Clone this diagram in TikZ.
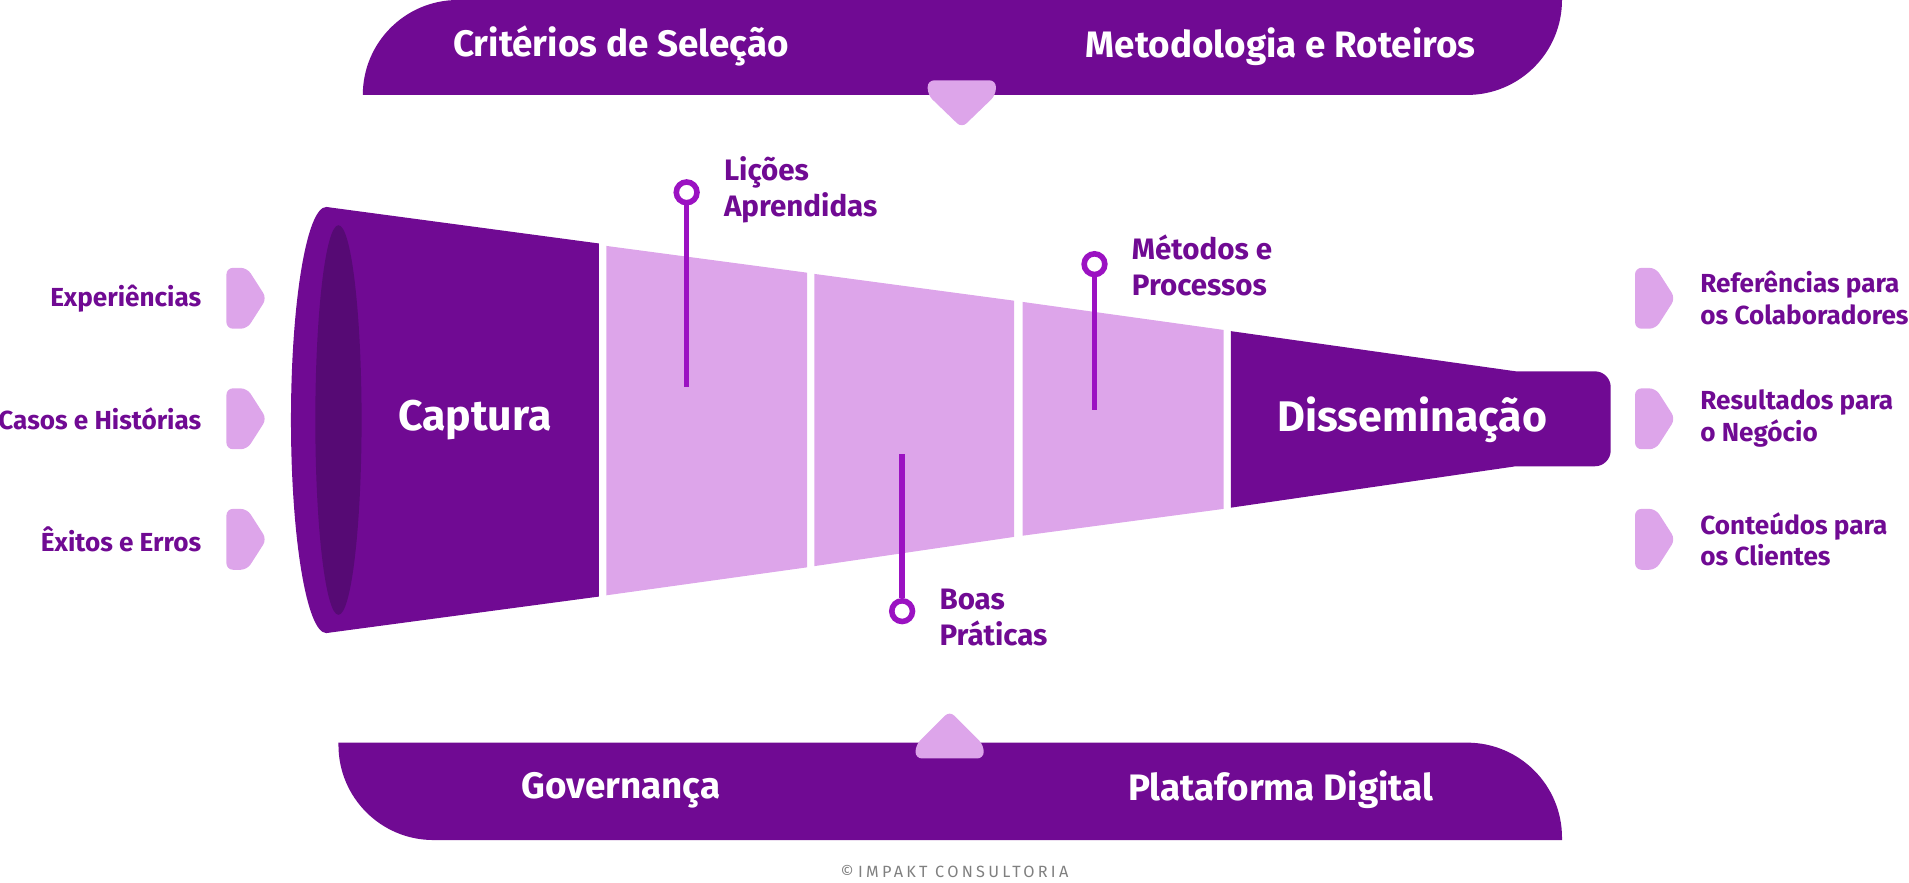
\documentclass[tikz,border=0pt]{standalone}
\usepackage{fontspec}
\setmainfont{Fira Sans}
\usepackage{tikz}
\definecolor{roxo}{HTML}{700A93}
\definecolor{roxoesc}{HTML}{560A74}
\definecolor{lilas}{HTML}{DDA5EA}
\definecolor{linha}{HTML}{9B12C2}
\tikzset{
  rotulo/.style={text=roxo, font=\bfseries\fontsize{6.1}{7.4}\selectfont, align=left, inner sep=0pt},
  destaque/.style={rotulo, font=\bfseries\fontsize{6.9}{8.4}\selectfont},
  barra/.style={text=white, font=\bfseries\fontsize{8.6}{11}\selectfont, inner sep=0pt},
  seta/.style={fill=lilas, rounded corners=1.5pt},
  marca/.style={circle, draw=linha, line width=1.3pt, minimum size=0.17cm, inner sep=0pt}
}
\begin{document}
\begin{tikzpicture}[x=0.01cm, y=-0.01cm]
    \useasboundingbox (0,0) rectangle (1568,725);

    % Barra de cima
    \fill[roxo] (298,78) arc[start angle=180, end angle=270, radius=78] -- (1283,0)
        arc[start angle=0, end angle=90, radius=78] -- cycle;
    \node[barra] (crit) at (510,38) {Critérios de Seleção};
    \node[barra] (meto) at (1052,38) {Metodologia e Roteiros};
    \fill[seta] (762,66) -- (818,66) -- (818,78) -- (790,105) -- (762,78) -- cycle;

    % Barra de baixo
    \fill[roxo] (278,610) -- (1205,610) arc[start angle=270, end angle=360, radius=78] |- (356,690)
        arc[start angle=90, end angle=180, radius=78] -- cycle;
    \node[barra] (gove) at (510,649) {Governança};
    \node[barra] (plat) at (1052,649) {Plataforma Digital};
    \fill[seta] (752,623) -- (808,623) -- (808,612) -- (780,584) -- (752,612) -- cycle;

    % Funil
    \fill[roxo] (268,170) -- (492,200) -- (492,490) -- (268,520) -- cycle;
    \fill[roxo] (268,345) ellipse[x radius=29, y radius=175];
    \fill[roxoesc] (278,345) ellipse[x radius=19, y radius=160];
    \fill[lilas] (498,202) -- (663,224) -- (663,466) -- (498,489) -- cycle;
    \fill[lilas] (669,225) -- (833,247) -- (833,441) -- (669,465) -- cycle;
    \fill[lilas] (840,248) -- (1005,271) -- (1005,418) -- (840,440) -- cycle;
    \fill[roxo] (1011,272) -- (1245,305) -- (1310,305) arc[start angle=270, end angle=360, radius=13]
        -- (1323,370) arc[start angle=0, end angle=90, radius=13] -- (1245,383) -- (1011,417) -- cycle;
    \node[barra, font=\bfseries\fontsize{10}{13}\selectfont] (capt) at (390,345) {Captura};
    \node[barra, font=\bfseries\fontsize{10}{13}\selectfont] (diss) at (1160,345) {Disseminação};

    % Marcadores
    \node[marca] (c1) at (564,158) {};
    \node[marca] (c2) at (741,502) {};
    \node[marca] (c3) at (899,217) {};
    \coordinate (p1) at (564,318);
    \coordinate (p2) at (741,373);
    \coordinate (p3) at (899,337);
    \draw[linha, line width=1.3pt] (c1) -- (p1);
    \draw[linha, line width=1.3pt] (c2) -- (p2);
    \draw[linha, line width=1.3pt] (c3) -- (p3);
    \node[destaque, anchor=west] (lic) at (594,156) {Lições\\Aprendidas};
    \node[destaque, anchor=west] (boa) at (771,507) {Boas\\Práticas};
    \node[destaque, anchor=west] (met) at (929,218) {Métodos e\\Processos};

    % Entradas
    \foreach \y/\t [count=\i] in {245/Experiências, 344/Casos e Histórias, 443/Êxitos e Erros}{
        \fill[seta] (186,\y-25) -- (203,\y-25) -- (219,\y) -- (203,\y+25) -- (186,\y+25) -- cycle;
        \node[rotulo, anchor=east] (e\i) at (166,\y) {\t};
    }
    % Saídas
    \foreach \y/\t [count=\i] in {245/Referências para\\os Colaboradores, 344/Resultados para\\o Negócio, 443/Conteúdos para\\os Clientes}{
        \fill[seta] (1343,\y-25) -- (1360,\y-25) -- (1376,\y) -- (1360,\y+25) -- (1343,\y+25) -- cycle;
        \node[rotulo, anchor=west] (s\i) at (1396,\y) {\t};
    }

    \node[text=gray, font=\fontsize{3.8}{5}\selectfont] (copy) at (784,716) {© \addfontfeature{LetterSpace=20}IMPAKT CONSULTORIA};
\end{tikzpicture}
\end{document}
